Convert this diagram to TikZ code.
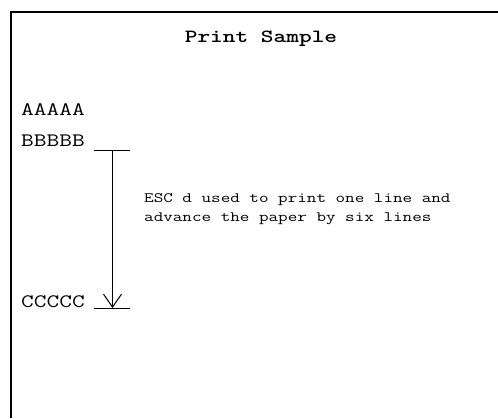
\documentclass[tikz,border=0pt]{standalone}
\usepackage{fontspec}
\newfontfamily\samplefont[FakeStretch=1.3]{Latin Modern Mono}
\newfontfamily\titlefont[FakeStretch=1.3,Extension=.otf]{lmmonolt10-bold}
\usetikzlibrary{arrows.meta}
\begin{document}
\begin{tikzpicture}[x=1pt,y=-1pt,
  frameline/.style={line width=1.5pt},
  thinline/.style={line width=1pt},
  sample/.style={inner sep=0pt,anchor=base west,font=\samplefont\fontsize{19}{20}\selectfont},
  note/.style={inner sep=0pt,anchor=base west,align=left,font=\samplefont\fontsize{14.3}{18.5}\selectfont},
  titletext/.style={inner sep=0pt,anchor=base,font=\titlefont\fontsize{18.6}{20}\selectfont}]
\useasboundingbox (0,0) rectangle (498,418);
\coordinate (fbl) at (11,418);
\coordinate (ftl) at (11,12);
\coordinate (ftr) at (498,12);
\draw[frameline] (fbl) -- (ftl) -- (ftr);
\node[titletext] (title) at (261,42.5) {Print Sample};
\node[sample] (a) at (21,115) {AAAAA};
\node[sample] (b) at (21,146) {BBBBB};
\node[sample] (c) at (21,307) {CCCCC};
\coordinate (bl) at (94,150);
\coordinate (br) at (130,150);
\coordinate (bm) at (112.5,150);
\coordinate (cl) at (94,308);
\coordinate (cr) at (130,308);
\coordinate (cm) at (112.5,308);
\draw[thinline] (bl) -- (br);
\draw[thinline] (cl) -- (cr);
\draw[thinline,-{Straight Barb[length=13pt,width=18pt,line width=1pt]}] (bm) -- (cm);
\node[note] (n) at (144,221) {ESC d used to print one line and\\advance the paper by six lines};
\end{tikzpicture}
\end{document}
